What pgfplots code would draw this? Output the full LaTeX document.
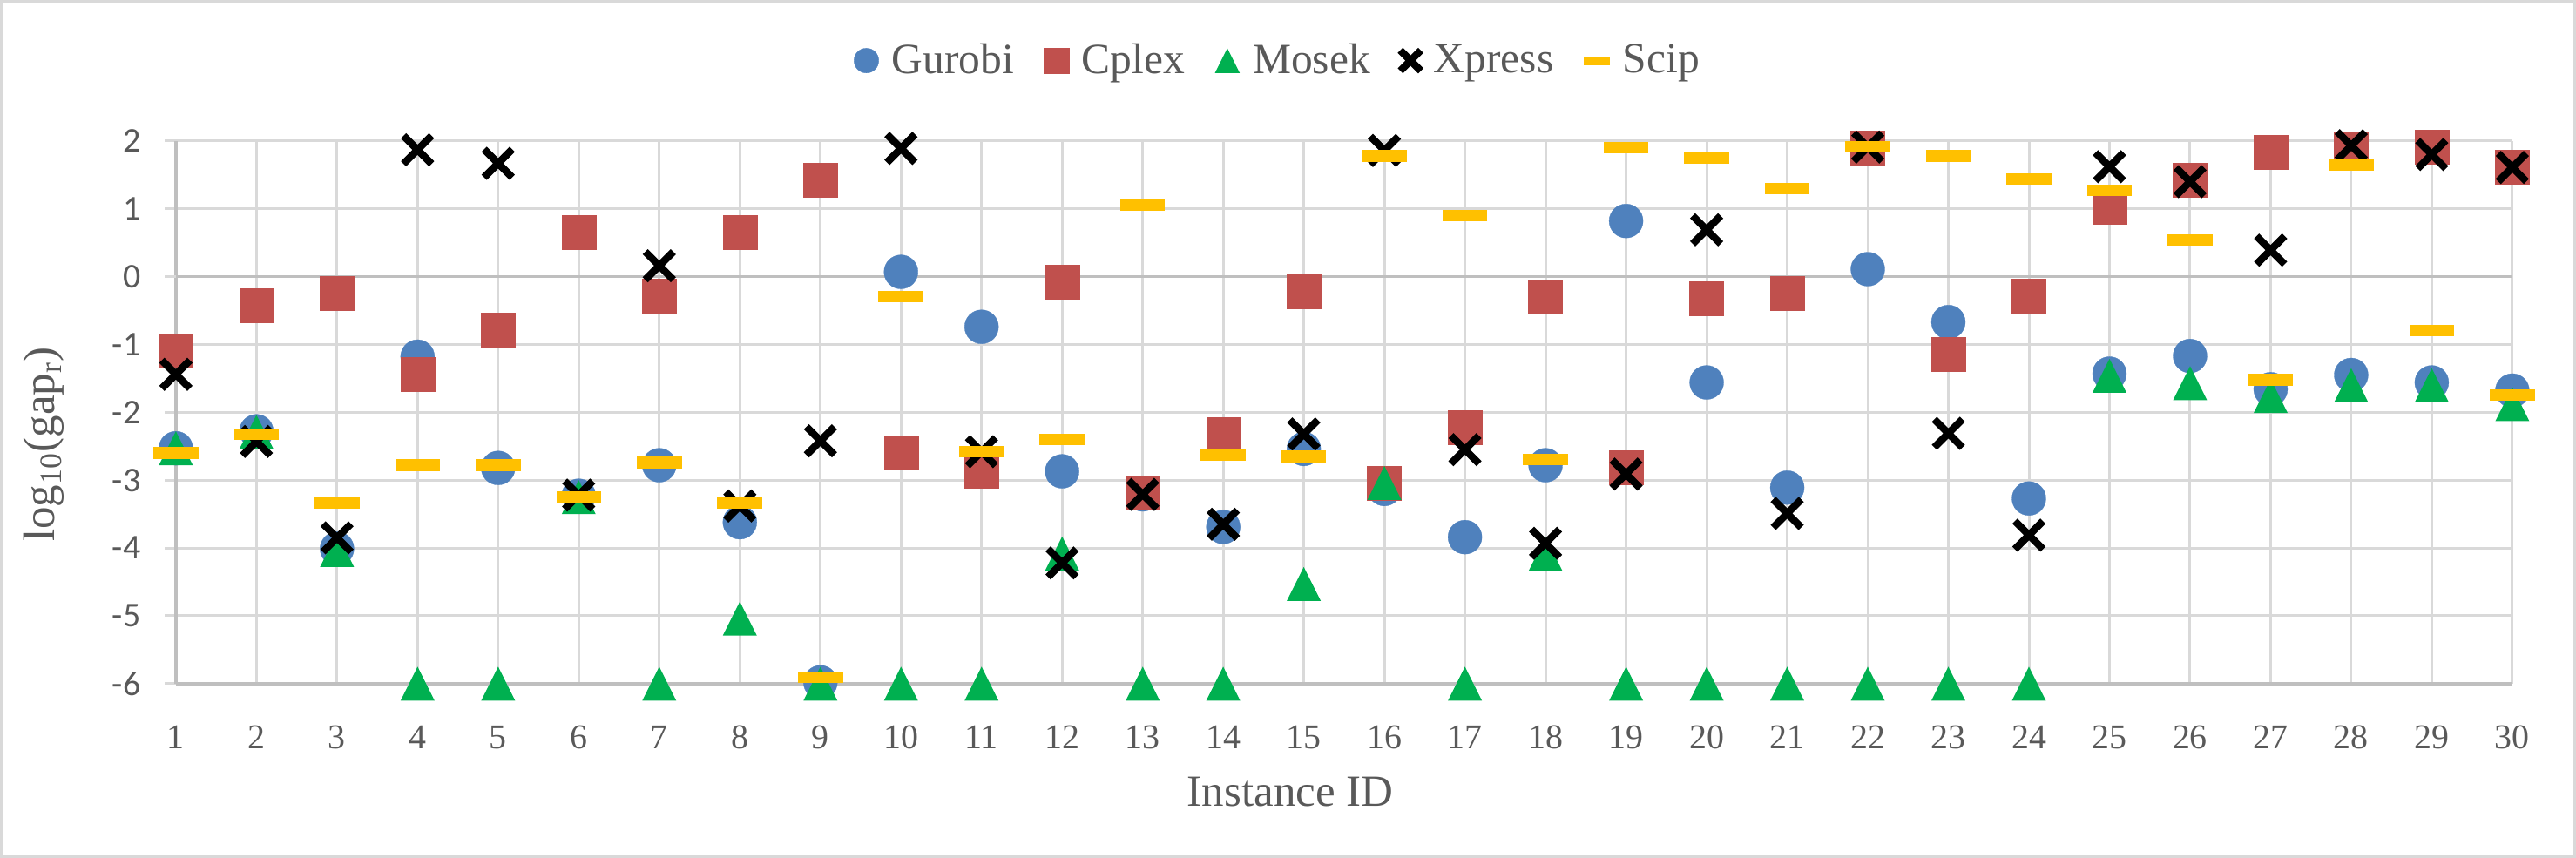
\documentclass[border=0pt]{standalone}
\usepackage{pgfplots}
\pgfplotsset{compat=1.18}
\usepackage{pgfplotstable}
\usepackage{fontspec}
\setmainfont{Liberation Serif}
\newfontfamily\carlito{Carlito}

\definecolor{gurobi}{HTML}{4F81BD}
\definecolor{cplex}{HTML}{C0504D}
\definecolor{mosek}{HTML}{00B050}
\definecolor{scip}{HTML}{FFC000}
\definecolor{textgray}{HTML}{595959}
\definecolor{gridgray}{HTML}{D9D9D9}
\definecolor{axisgray}{HTML}{BFBFBF}

% Excel-like markers
\pgfdeclareplotmark{xltri}{%
  \pgfpathmoveto{\pgfqpoint{0pt}{6.5pt}}%
  \pgfpathlineto{\pgfqpoint{-6.5pt}{-6.5pt}}%
  \pgfpathlineto{\pgfqpoint{6.5pt}{-6.5pt}}%
  \pgfpathclose
  \pgfusepathqfill}
\pgfdeclareplotmark{xldash}{%
  \pgfsetcornersarced{\pgfqpoint{1.2pt}{1.2pt}}%
  \pgfpathrectangle{\pgfqpoint{-8.6pt}{-2.2pt}}{\pgfqpoint{17.2pt}{4.4pt}}%
  \pgfusepathqfill}

\pgfplotsset{
  lgd/.style={legend image code/.code={\draw[##1, every mark/.append style={scale=0.73}] plot coordinates {(0pt,0pt)};}},
  lgdscip/.style={legend image code/.code={\draw[##1, every mark/.append style={xscale=0.58, yscale=0.77}] plot coordinates {(0pt,0pt)};}},
}

% log10 of the relative gap, per instance and solver
\pgfplotstableread{
id gurobi cplex mosek xpress scip
1  -2.53 -1.09 -2.53 -1.44 -2.60
2  -2.28 -0.43 -2.29 -2.43 -2.32
3  -4.01 -0.25 -4.03 -3.85 -3.33
4  -1.18 -1.44 -6.00  1.87 -2.78
5  -2.82 -0.78 -6.00  1.67 -2.78
6  -3.23  0.66 -3.25 -3.22 -3.25
7  -2.78 -0.28 -6.00  0.16 -2.74
8  -3.62  0.65 -5.04 -3.38 -3.34
9  -5.98  1.43 -6.00 -2.42 -5.91
10  0.07 -2.59 -6.00  1.89 -0.29
11 -0.74 -2.86 -6.00 -2.58 -2.58
12 -2.87 -0.08 -4.08 -4.22 -2.40
13 -3.21 -3.18 -6.00 -3.21  1.06
14 -3.69 -2.32 -6.00 -3.65 -2.63
15 -2.54 -0.22 -4.53 -2.32 -2.65
16 -3.13 -3.04 -3.04  1.86  1.78
17 -3.84 -2.22 -6.00 -2.55  0.90
18 -2.78 -0.29 -4.09 -3.93 -2.70
19  0.82 -2.81 -6.00 -2.91  1.90
20 -1.56 -0.32 -6.00  0.69  1.75
21 -3.11 -0.24 -6.00 -3.49  1.30
22  0.11  1.90 -6.00  1.91  1.91
23 -0.67 -1.14 -6.00 -2.31  1.78
24 -3.27 -0.28 -6.00 -3.81  1.44
25 -1.43  1.02 -1.46  1.62  1.27
26 -1.17  1.42 -1.57  1.40  0.54
27 -1.66  1.84 -1.76  0.39 -1.52
28 -1.45  1.89 -1.60  1.93  1.65
29 -1.56  1.91 -1.60  1.80 -0.80
30 -1.68  1.62 -1.88  1.61 -1.75
}\gaps

\begin{document}
\begin{tikzpicture}
\useasboundingbox (0,0) rectangle (985.67pt,328.33pt);
\draw[draw=gridgray, line width=1.2pt] (0.6pt,0.6pt) rectangle (985.07pt,327.73pt);
\begin{axis}[
  at={(67.3pt,66.7pt)}, anchor=south west,
  scale only axis, width=894pt, height=207.7pt,
  xmin=1, xmax=30, ymin=-6, ymax=2,
  xtick={1,...,30}, ytick={-6,...,2},
  grid=major, grid style={draw=gridgray, line width=1pt},
  axis x line*=bottom, axis y line*=left,
  axis line style={draw=axisgray, line width=1.2pt},
  x tick style={draw=none},
  y tick style={draw=gridgray, line width=1pt},
  tick align=outside, major tick length=4.3pt,
  extra y ticks={0}, extra y tick labels={},
  extra y tick style={grid style={draw=axisgray, line width=1pt}},
  x tick label style={font=\fontsize{13.3}{15}\selectfont, text=textgray,
    /pgf/number format/assume math mode=true, anchor=base, inner sep=0pt, yshift=-20.7pt},
  y tick label style={font=\fontsize{13.3}{15}\selectfont\carlito, text=textgray,
    /pgf/number format/assume math mode=true, anchor=east, inner sep=0pt, xshift=-9pt},
  xlabel={Instance ID},
  ylabel={log\textsubscript{10}(gap\textsubscript{r})},
  every axis x label/.style={at={(axis description cs:0.477,-0.225)}, anchor=base,
    font=\fontsize{17}{20}\selectfont, text=textgray},
  every axis y label/.style={at={(axis description cs:-0.0518,0.441)}, anchor=base, rotate=90,
    font=\fontsize{17}{20}\selectfont, text=textgray},
  legend style={at={(axis description cs:0.472,1.148)}, anchor=center,
    draw=none, fill=none, legend columns=-1,
    font=\fontsize{16.5}{19}\selectfont, text=textgray,
    nodes={inner sep=1.5pt},
    /tikz/every odd column/.append style={column sep=3.5pt},
    /tikz/every even column/.append style={column sep=10pt}},
  clip=false,
]
\addplot[only marks, mark=*, mark size=6.5pt,
  mark options={fill=gurobi, draw=gurobi, line width=0.1pt}, lgd]
  table[x=id, y=gurobi] {\gaps};
\addlegendentry{Gurobi}
\addplot[only marks, mark=square*, mark size=6.5pt,
  mark options={fill=cplex, draw=cplex, line width=0.1pt}, lgd]
  table[x=id, y=cplex] {\gaps};
\addlegendentry{Cplex}
\addplot[only marks, mark=xltri,
  mark options={fill=mosek}, lgd]
  table[x=id, y=mosek] {\gaps};
\addlegendentry{Mosek}
\addplot[only marks, mark=x, mark size=7.6pt,
  mark options={draw=black, line width=2.8pt, line cap=butt}, lgd]
  table[x=id, y=xpress] {\gaps};
\addlegendentry{Xpress}
\addplot[only marks, mark=xldash,
  mark options={fill=scip}, lgdscip]
  table[x=id, y=scip] {\gaps};
\addlegendentry{Scip}
\end{axis}
\end{tikzpicture}
\end{document}
